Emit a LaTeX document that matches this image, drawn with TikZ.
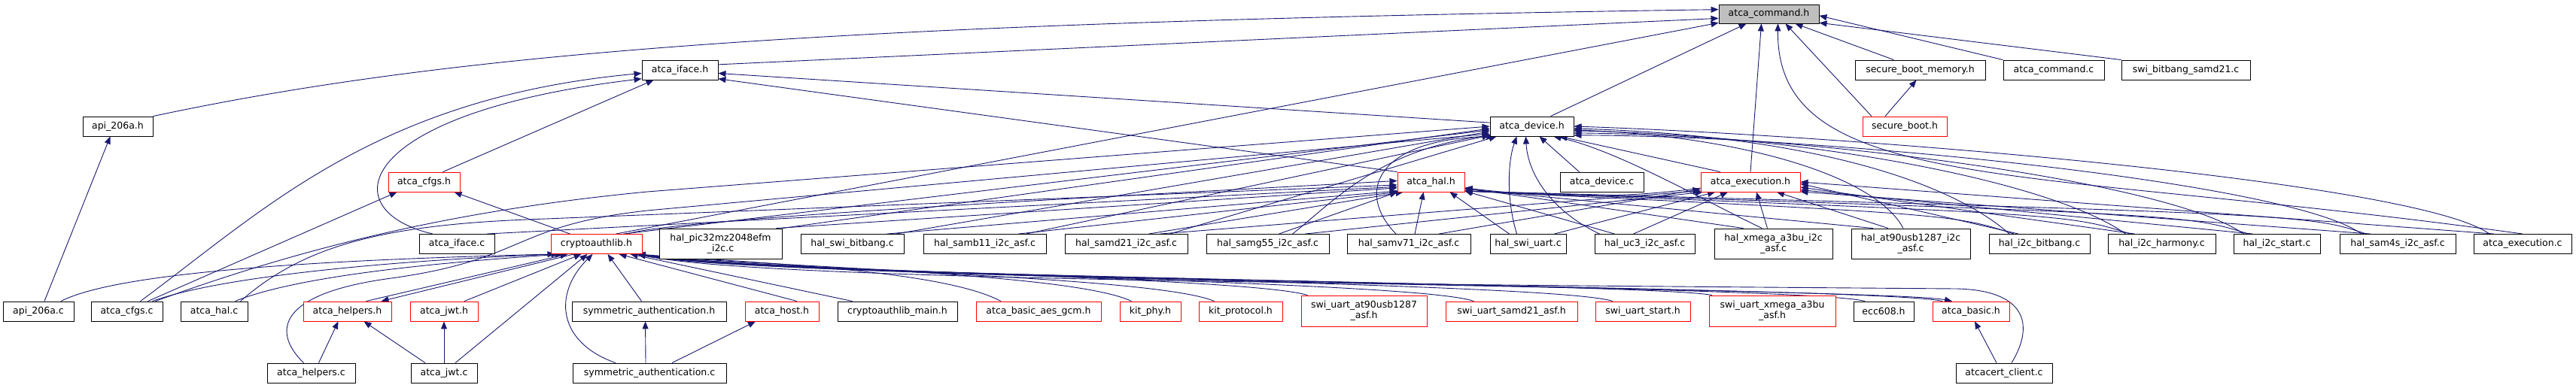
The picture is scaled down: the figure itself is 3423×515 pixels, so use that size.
\documentclass[tikz,border=0pt]{standalone}
\usepackage{fontspec}
\newfontfamily\dxfont{DejaVu Sans}
\usetikzlibrary{arrows.meta,backgrounds}
\definecolor{edgeblue}{HTML}{191970}
\definecolor{rootgrey}{HTML}{BFBFBF}
\definecolor{truncred}{HTML}{FF0000}
\tikzset{
  nb/.style={draw=black, line width=0.9pt, fill=white, inner sep=0pt, minimum height=26pt, align=center, font=\dxfont\fontsize{12.5}{14}\selectfont},
  rb/.style={nb, draw=truncred},
  rootnode/.style={nb, fill=rootgrey},
  tallbox/.style={minimum height=40pt},
  dep/.style={draw=edgeblue, line width=0.9pt, -{Triangle[length=10pt,width=8pt]}},
}
\begin{document}
\begin{tikzpicture}[x=1pt,y=-1pt]
\useasboundingbox (0,0) rectangle (3423,515);
% row 0/1
\node[rootnode, minimum width=133pt, minimum height=25pt] (cmd) at (2350.5,18.5) {atca\_command.h};
\node[nb, minimum width=101pt] (ifaceh) at (903.5,93) {atca\_iface.h};
\node[nb, minimum width=173pt] (sbm) at (2551.5,93) {secure\_boot\_memory.h};
\node[nb, minimum width=134pt] (cmdc) at (2729,93) {atca\_command.c};
\node[nb, minimum width=171pt] (swibb) at (2904.5,93) {swi\_bitbang\_samd21.c};
% row 2
\node[nb, minimum width=93pt] (apih) at (156.5,168) {api\_206a.h};
\node[nb, minimum width=111pt] (devh) at (2035.5,168) {atca\_device.h};
\node[rb, minimum width=112pt] (sb) at (2531,168) {secure\_boot.h};
% row 3
\node[rb, minimum width=95pt] (cfgsh) at (563.5,242) {atca\_cfgs.h};
\node[rb, minimum width=89pt] (halh) at (1901.5,242) {atca\_hal.h};
\node[nb, minimum width=111pt] (devc) at (2128.5,242) {atca\_device.c};
\node[rb, minimum width=132pt] (exech) at (2326,242) {atca\_execution.h};
% row 4
\node[nb, minimum width=100pt] (ifacec) at (607,324.5) {atca\_iface.c};
\node[rb, minimum width=121pt] (cal) at (792.5,324.5) {cryptoauthlib.h};
\node[nb, tallbox, minimum width=163pt] (pic) at (957.5,324) {hal\_pic32mz2048efm\\\_i2c.c};
\node[nb, minimum width=137pt] (swibit) at (1132.5,324.5) {hal\_swi\_bitbang.c};
\node[nb, minimum width=163pt] (samb) at (1308.5,324.5) {hal\_samb11\_i2c\_asf.c};
\node[nb, minimum width=163pt] (samd) at (1496.5,324.5) {hal\_samd21\_i2c\_asf.c};
\node[nb, minimum width=163pt] (samg) at (1684.5,324.5) {hal\_samg55\_i2c\_asf.c};
\node[nb, minimum width=164pt] (samv) at (1872,324.5) {hal\_samv71\_i2c\_asf.c};
\node[nb, minimum width=101pt] (swiuart) at (2030.5,324.5) {hal\_swi\_uart.c};
\node[nb, minimum width=133pt] (ucthree) at (2185.5,324.5) {hal\_uc3\_i2c\_asf.c};
\node[nb, tallbox, minimum width=157pt] (xmega) at (2356.5,324) {hal\_xmega\_a3bu\_i2c\\\_asf.c};
\node[nb, tallbox, minimum width=158pt] (atn) at (2539,324) {hal\_at90usb1287\_i2c\\\_asf.c};
\node[nb, minimum width=134pt] (ibb) at (2710,324.5) {hal\_i2c\_bitbang.c};
\node[nb, minimum width=143pt] (harm) at (2872.5,324.5) {hal\_i2c\_harmony.c};
\node[nb, minimum width=115pt] (istart) at (3025.5,324.5) {hal\_i2c\_start.c};
\node[nb, minimum width=154pt] (samfour) at (3186,324.5) {hal\_sam4s\_i2c\_asf.c};
\node[nb, minimum width=130pt] (execc) at (3352,324.5) {atca\_execution.c};
% row 5
\node[nb, minimum width=94pt] (apic) at (51,414) {api\_206a.c};
\node[nb, minimum width=95pt] (cfgsc) at (168.5,414) {atca\_cfgs.c};
\node[nb, minimum width=89pt] (halc) at (284.5,414) {atca\_hal.c};
\node[rb, minimum width=117pt] (helph) at (461.5,414) {atca\_helpers.h};
\node[rb, minimum width=90pt] (jwth) at (590,414) {atca\_jwt.h};
\node[nb, minimum width=205pt] (symh) at (862.5,414) {symmetric\_authentication.h};
\node[rb, minimum width=98pt] (host) at (1039,414) {atca\_host.h};
\node[nb, minimum width=159pt] (calmain) at (1192.5,414) {cryptoauthlib\_main.h};
\node[rb, minimum width=166pt] (gcm) at (1380,414) {atca\_basic\_aes\_gcm.h};
\node[rb, minimum width=81pt] (kitphy) at (1528.5,414) {kit\_phy.h};
\node[rb, minimum width=111pt] (kitproto) at (1648.5,414) {kit\_protocol.h};
\node[rb, minimum width=167pt, minimum height=41pt] (swiat) at (1812.5,413.5) {swi\_uart\_at90usb1287\\\_asf.h};
\node[rb, minimum width=175pt] (swisamd) at (2008.5,414) {swi\_uart\_samd21\_asf.h};
\node[rb, minimum width=126pt] (swistart) at (2183,414) {swi\_uart\_start.h};
\node[rb, minimum width=168pt, minimum height=41pt] (swixmega) at (2355,413.5) {swi\_uart\_xmega\_a3bu\\\_asf.h};
\node[nb, minimum width=80pt] (ecc) at (2503,414) {ecc608.h};
\node[rb, minimum width=102pt] (basic) at (2619,414) {atca\_basic.h};
% row 6
\node[nb, minimum width=117pt] (helpc) at (413.5,496) {atca\_helpers.c};
\node[nb, minimum width=88pt] (jwtc) at (590,496) {atca\_jwt.c};
\node[nb, minimum width=204pt] (symc) at (863,496) {symmetric\_authentication.c};
\node[nb, minimum width=128pt] (acc) at (2663,496) {atcacert\_client.c};

\begin{pgfonlayer}{background}
\fill[white] (0,0) rectangle (3423,515);
% --- to atca_command.h
\draw[dep] (apih.north east) .. controls (600,70) and (1100,30) .. (cmd.175);
\draw[dep] (ifaceh.8) -- (cmd.185);
\draw[dep] ([xshift=-35pt]cal.north east) -- (cmd.190);
\draw[dep] ([xshift=25pt]devh.north) -- ([xshift=-30pt]cmd.south);
\draw[dep] (exech.north) -- ([xshift=-10pt]cmd.south);
\draw[dep] (execc.north) .. controls (2700,220) and (2360,260) .. ([xshift=12pt]cmd.south);
\draw[dep] ([xshift=-35pt]sbm.north) -- ([xshift=35pt]cmd.south);
\draw[dep] ([xshift=-44pt]sb.north) -- ([xshift=22pt]cmd.south);
\draw[dep] ([xshift=-26pt]sb.north) -- ([xshift=-5pt]sbm.south);
\draw[dep] (cmdc.north west) -- (cmd.-2);
\draw[dep] (swibb.north west) -- (cmd.-10);
% --- to atca_iface.h
\draw[dep] ([xshift=25pt]cfgsh.north) -- ([xshift=-35pt]ifaceh.south);
\draw[dep] ([xshift=18pt]cfgsc.north) .. controls (350,280) and (500,130) .. (ifaceh.185);
\draw[dep] ([xshift=-32pt]ifacec.north) .. controls (440,280) and (470,150) .. (ifaceh.193);
\draw[dep] (devh.175) -- (ifaceh.-5);
\draw[dep] (halh.north west) -- (ifaceh.-13);
% --- api, cfgs
\draw[dep] ([xshift=8pt]apic.north) -- ([xshift=-10pt]apih.south);
\draw[dep] ([xshift=28pt]cfgsc.north) -- ([xshift=-36pt]cfgsh.south);
\draw[dep] ([xshift=-35pt]cal.north) -- ([xshift=40pt]cfgsh.south);
% --- to cryptoauthlib.h (left and below)
\draw[dep] ([xshift=30pt]apic.north) .. controls (160,360) and (450,345) .. ([xshift=-55pt]cal.south);
\draw[dep] ([xshift=34pt]cfgsc.north) .. controls (300,365) and (550,345) .. ([xshift=-50pt]cal.south);
\draw[dep] ([xshift=28pt]halc.north) .. controls (400,365) and (600,348) .. ([xshift=-45pt]cal.south);
\draw[dep] ([xshift=25pt]helph.north) -- ([xshift=-38pt]cal.south);
\draw[dep] ([xshift=-30pt]cal.south) -- ([xshift=45pt]helph.north);
\draw[dep] ([xshift=27pt]jwth.north) -- ([xshift=-20pt]cal.south);
\draw[dep] ([xshift=15pt]jwtc.north) -- ([xshift=-12pt]cal.south);
\draw[dep] ([xshift=-10pt]symh.north) -- ([xshift=15pt]cal.south);
\draw[dep] ([xshift=-45pt]symc.north) .. controls (740,455) and (735,390) .. ([xshift=-5pt]cal.south);
\draw[dep] ([xshift=20pt]host.north) -- ([xshift=30pt]cal.south);
\draw[dep] ([xshift=-60pt]calmain.north) -- ([xshift=45pt]cal.south);
% bundle to cryptoauthlib.h from the right
\draw[dep] ([xshift=-50pt]gcm.north) .. controls (1250,358) and (1000,350) .. ([xshift=55pt]cal.south);
\draw[dep] ([xshift=-25pt]kitphy.north) .. controls (1423,362) and (1000,354) .. ([xshift=55pt]cal.south);
\draw[dep] ([xshift=-35pt]kitproto.north) .. controls (1533,366) and (1000,358) .. ([xshift=55pt]cal.south);
\draw[dep] ([xshift=-75pt]swiat.north) .. controls (1657,368) and (1000,360) .. ([xshift=55pt]cal.south);
\draw[dep] ([xshift=-50pt]swisamd.north) .. controls (1878,372) and (1000,364) .. ([xshift=55pt]cal.south);
\draw[dep] ([xshift=-40pt]swistart.north) .. controls (2063,374) and (1000,366) .. ([xshift=55pt]cal.south);
\draw[dep] ([xshift=-80pt]swixmega.north) .. controls (2195,376) and (1000,368) .. ([xshift=55pt]cal.south);
\draw[dep] ([xshift=-25pt]ecc.north) .. controls (2398,378) and (1000,370) .. ([xshift=55pt]cal.south);
\draw[dep] ([xshift=-38pt]basic.north) .. controls (2501,380) and (1000,372) .. ([xshift=55pt]cal.south);
\draw[dep] ([xshift=52pt]cal.south) .. controls (1000,374) and (2500,382) .. ([xshift=-25pt]basic.north);
\draw[dep] ([xshift=10pt]acc.north) .. controls (2705,430) and (2690,386) .. (2600,384) .. controls (1800,378) and (1000,372) .. ([xshift=55pt]cal.south);
% --- lower small edges
\draw[dep] ([xshift=10pt]helpc.north) -- ([xshift=-12pt]helph.south);
\draw[dep] ([xshift=-25pt]jwtc.north) -- ([xshift=22pt]helph.south);
\draw[dep] (jwtc.north) -- (jwth.south);
\draw[dep] ([xshift=-5pt]symc.north) -- ([xshift=-5pt]symh.south);
\draw[dep] ([xshift=30pt]symc.north) -- ([xshift=-35pt]host.south);
\draw[dep] ([xshift=-10pt]acc.north) -- ([xshift=5pt]basic.south);
% --- long ones from the left to atca_device.h / atca_hal.h
\draw[dep] ([xshift=-10pt]helpc.north) .. controls (360,440) and (370,390) .. (520,370) .. controls (700,345) and (680,300) .. (860,280) -- (devh.190);
\draw[dep] ([xshift=38pt]cfgsc.north) .. controls (400,330) and (600,280) .. (860,255) -- (devh.180);
\draw[dep] ([xshift=-25pt]cal.north east) -- (devh.185);
\draw[dep] ([xshift=-20pt]cal.north east) .. controls (900,290) and (1500,260) .. (halh.178);
\draw[dep] ([xshift=40pt]ifacec.north) -- (halh.188);
\draw[dep] ([xshift=35pt]halc.north) .. controls (400,330) and (500,300) .. (700,292) -- (halh.185);
% --- hal files, left group
\draw[dep] ([xshift=-8pt]pic.north east) -- (halh.190);
\draw[dep] (pic.north east) -- (devh.183);
\draw[dep] ([xshift=46pt]swibit.north) -- (halh.195);
\draw[dep] ([xshift=58pt]swibit.north) -- (devh.187);
\draw[dep] ([xshift=45pt]samb.north) -- (halh.197);
\draw[dep] ([xshift=55pt]samb.north) -- (devh.192);
\draw[dep] ([xshift=30pt]samd.north) -- (halh.200);
\draw[dep] ([xshift=58pt]samd.north) -- (devh.196);
\draw[dep] ([xshift=45pt]samd.north) -- (exech.190);
\draw[dep] ([xshift=15pt]samg.north) -- (halh.south west);
\draw[dep] ([xshift=33pt]samg.north) .. controls (1770,270) and (1830,200) .. (devh.192);
\draw[dep] ([xshift=50pt]samg.north) -- (exech.192);
\draw[dep] ([xshift=-17pt]samv.north) .. controls (1800,255) and (1830,185) .. (devh.195);
\draw[dep] ([xshift=8pt]samv.north) -- ([xshift=-10pt]halh.south);
\draw[dep] ([xshift=40pt]samv.north) -- (exech.188);
\draw[dep] ([xshift=-25pt]swiuart.north) -- ([xshift=25pt]halh.south);
\draw[dep] ([xshift=-15pt]swiuart.north) .. controls (2000,260) and (2005,210) .. ([xshift=-20pt]devh.south);
\draw[dep] ([xshift=35pt]swiuart.north) -- (exech.196);
\draw[dep] ([xshift=-60pt]ucthree.north) .. controls (2060,280) and (2030,230) .. ([xshift=-8pt]devh.south);
\draw[dep] ([xshift=-40pt]ucthree.north) -- (halh.-15);
\draw[dep] ([xshift=-15pt]ucthree.north) -- ([xshift=-30pt]exech.south);
% --- device.c, execution.h
\draw[dep] ([xshift=-30pt]devc.north) -- ([xshift=10pt]devh.south);
\draw[dep] ([xshift=-40pt]exech.north) -- (devh.-20);
\draw[dep] ([yshift=-8pt]exech.west) .. controls (2150,265) and (2050,262) .. (halh.-10);
% --- hal files, right group
\draw[dep] ([xshift=-8pt]xmega.north) -- ([xshift=8pt]exech.south);
\draw[dep] ([xshift=-15pt]xmega.north) .. controls (2270,270) and (2150,200) .. (devh.-25);
\draw[dep] ([xshift=-40pt]xmega.north) -- (halh.-10);
\draw[dep] ([xshift=-30pt]atn.north) -- ([xshift=35pt]exech.south);
\draw[dep] ([xshift=-10pt]atn.north) .. controls (2490,230) and (2300,180) .. (devh.-5);
\draw[dep] ([xshift=-50pt]atn.north) -- (halh.-12);
\draw[dep] ([xshift=-40pt]ibb.north) .. controls (2590,240) and (2400,180) .. (devh.-3);
\draw[dep] ([xshift=-34pt]ibb.north) .. controls (2596,285) .. (halh.-15);
\draw[dep] ([xshift=-28pt]ibb.north) -- (exech.-2);
\draw[dep] ([xshift=-48pt]harm.north) .. controls (2725,240) and (2400,180) .. (devh.-6);
\draw[dep] ([xshift=-42pt]harm.north) .. controls (2750,285) .. (halh.-15);
\draw[dep] ([xshift=-36pt]harm.north) -- (exech.-6);
\draw[dep] ([xshift=-44pt]istart.north) .. controls (2880,240) and (2400,180) .. (devh.-9);
\draw[dep] ([xshift=-38pt]istart.north) .. controls (2905,285) .. (halh.-15);
\draw[dep] ([xshift=-32pt]istart.north) -- (exech.-9);
\draw[dep] ([xshift=-48pt]samfour.north) .. controls (3040,240) and (2400,180) .. (devh.-12);
\draw[dep] ([xshift=-42pt]samfour.north) .. controls (3066,285) .. (halh.-15);
\draw[dep] ([xshift=-36pt]samfour.north) -- (exech.-11);
\draw[dep] ([xshift=-44pt]execc.north) .. controls (3208,240) and (2450,180) .. (devh.0);
\draw[dep] ([xshift=-38pt]execc.north) -- (exech.0);
\end{pgfonlayer}
\end{tikzpicture}
\end{document}
